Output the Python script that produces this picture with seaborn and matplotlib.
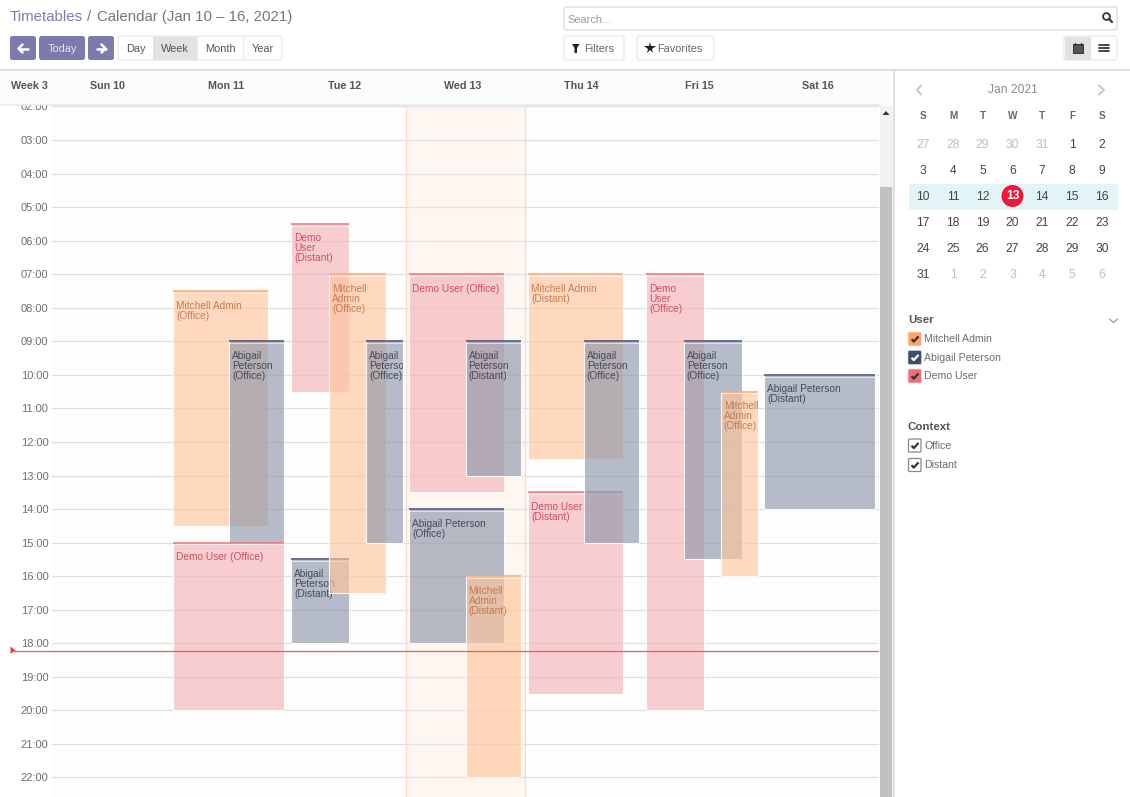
import matplotlib
matplotlib.use("Agg")
import matplotlib.pyplot as plt
from matplotlib.colors import to_rgba
from matplotlib.patches import Circle, FancyBboxPatch, Polygon, Rectangle
import pandas as pd
import seaborn as sns

# calendar events, in the order they stack
event_day = [1, 1, 1, 2, 2, 2, 2, 3, 3, 3, 3, 4, 4, 4, 5, 5, 5, 6]
event_user = ["Mitchell Admin", "Abigail Peterson", "Demo User",
              "Demo User", "Abigail Peterson", "Mitchell Admin", "Abigail Peterson",
              "Demo User", "Abigail Peterson", "Abigail Peterson", "Mitchell Admin",
              "Mitchell Admin", "Demo User", "Abigail Peterson",
              "Demo User", "Abigail Peterson", "Mitchell Admin",
              "Abigail Peterson"]
event_context = ["Office", "Office", "Office",
                 "Distant", "Distant", "Office", "Office",
                 "Office", "Distant", "Office", "Distant",
                 "Distant", "Distant", "Office",
                 "Office", "Office", "Office",
                 "Distant"]
event_start = [7.5, 9, 15, 5.5, 15.5, 7, 9, 7, 9, 14, 16, 7, 13.5, 9, 7, 9, 10.5, 10]
event_end = [14.5, 15, 20, 10.5, 18, 16.5, 15, 13.5, 13, 18, 22, 12.5, 19.5, 15, 20, 15.5, 16, 14]

# share of the day column each event takes up
slot_from = [0.025, 0.50, 0.025, 0.027, 0.027, 0.344, 0.66, 0.025, 0.50, 0.025, 0.50,
             0.03, 0.03, 0.50, 0.03, 0.347, 0.66, 0.03]
slot_to = [0.83, 0.967, 0.967, 0.517, 0.517, 0.827, 0.972, 0.83, 0.967, 0.83, 0.967,
           0.83, 0.83, 0.967, 0.52, 0.84, 0.972, 0.967]

# line breaks per event, the narrow ones wrap
event_label = ["Mitchell Admin\n(Office)", "Abigail\nPeterson\n(Office)", "Demo User (Office)",
               "Demo\nUser\n(Distant)", "Abigail\nPeterson\n(Distant)", "Mitchell\nAdmin\n(Office)",
               "Abigail\nPeterson\n(Office)",
               "Demo User (Office)", "Abigail\nPeterson\n(Distant)", "Abigail Peterson\n(Office)",
               "Mitchell\nAdmin\n(Distant)",
               "Mitchell Admin\n(Distant)", "Demo User\n(Distant)", "Abigail\nPeterson\n(Office)",
               "Demo\nUser\n(Office)", "Abigail\nPeterson\n(Office)", "Mitchell\nAdmin\n(Office)",
               "Abigail Peterson\n(Distant)"]

hours = list(range(2, 23))
day_names = ["Sun 10", "Mon 11", "Tue 12", "Wed 13", "Thu 14", "Fri 15", "Sat 16"]
now_hour = 18.22
today_col = 3

week_letters = ["S", "M", "T", "W", "T", "F", "S"]
month_rows = [[27, 28, 29, 30, 31, 1, 2],
              [3, 4, 5, 6, 7, 8, 9],
              [10, 11, 12, 13, 14, 15, 16],
              [17, 18, 19, 20, 21, 22, 23],
              [24, 25, 26, 27, 28, 29, 30],
              [31, 1, 2, 3, 4, 5, 6]]
users = ["Mitchell Admin", "Abigail Peterson", "Demo User"]
contexts = ["Office", "Distant"]

fill = {"Mitchell Admin": "#ffc59c", "Abigail Peterson": "#8d96aa", "Demo User": "#f5b2b7"}
strip = {"Mitchell Admin": "#fba56c", "Abigail Peterson": "#3d4c6a", "Demo User": "#ee6f7a"}
ink = {"Mitchell Admin": "#c5784c", "Abigail Peterson": "#3e4655", "Demo User": "#cb4a5c"}
tick_ink = {"Mitchell Admin": "#333333", "Abigail Peterson": "#ffffff", "Demo User": "#333333"}
fill_alpha = 0.64

df = pd.DataFrame({"day": event_day, "user": event_user, "context": event_context,
                   "start": event_start, "end": event_end, "label": event_label,
                   "slot_from": slot_from, "slot_to": slot_to})

sns.set_theme(style="white")
plt.rcParams["font.family"] = ["Liberation Sans", "DejaVu Sans"]

W, H = 1130, 797
fig = plt.figure(figsize=(W / 100, H / 100), dpi=100, facecolor="white")

# main grid: x in day columns, y in hours
ax = fig.add_axes([52 / W, 0, (879 - 52) / W, (H - 106) / H], facecolor="#fdfdfd", zorder=1)

for i, row in df.iterrows():
    left = row["day"] + row["slot_from"]
    right = row["day"] + row["slot_to"]
    z = 3 + i * 0.1
    sns.barplot(x=[(left + right) / 2], y=[row["end"] - row["start"]], bottom=row["start"],
                width=right - left, native_scale=True, errorbar=None, saturation=1,
                color=fill[row["user"]], ax=ax)
    bar = ax.patches[-1]
    bar.set_facecolor(to_rgba(fill[row["user"]], fill_alpha))
    bar.set_edgecolor(to_rgba("white", 0.9))
    bar.set_linewidth(0.8)
    bar.set_zorder(z)
    ax.plot([left, right], [row["start"]] * 2, color=strip[row["user"]], lw=1.1,
            solid_capstyle="butt", zorder=z + 0.01)
    ax.plot([left, right], [row["start"] + 0.05] * 2, color="white", alpha=0.7, lw=0.6,
            solid_capstyle="butt", zorder=z + 0.01)
    txt = ax.annotate(row["label"], xy=(left, row["start"]), xytext=(3, -9.5), textcoords="offset pixels",
                      ha="left", va="top", fontsize=7.3, linespacing=1.0, color=ink[row["user"]],
                      alpha=0.95, zorder=z + 0.02)
    txt.set_clip_on(True)
    txt.set_clip_path(bar)

ax.set_xlim(0, 7)
ax.set_ylim(2 + (H - 106.5) / 33.55, 2 - 0.5 / 33.55)
ax.set_yticks(hours)
ax.set_yticklabels([f"{h:02d}:00" for h in hours], fontsize=8, color="#6f6f6f")
ax.set_xticks([])
ax.set_xlabel("")
ax.set_ylabel("")
ax.tick_params(axis="y", length=0, pad=2.6)
ax.grid(axis="y", color="#d8dfe6", lw=0.9)
ax.set_axisbelow(True)
sns.despine(ax=ax, left=True, bottom=True, right=True, top=True)

# today column and now line
ax.axvspan(today_col, today_col + 1, facecolor=to_rgba("#ffe8d8", 0.3), edgecolor="none", zorder=2)
ax.axvline(today_col, color="#fcdcc8", lw=0.9, zorder=2)
ax.axvline(today_col + 1, color="#fcdcc8", lw=0.9, zorder=2)
ax.axhline(now_hour, color="#ff5555", lw=0.9, zorder=20)

# the odoo page around the grid, in pixel coordinates
ui = fig.add_axes([0, 0, 1, 1], zorder=5)
ui.set_xlim(0, W)
ui.set_ylim(H, 0)
ui.axis("off")


def box(x0, y0, x1, y1, fc="white", ec="none", lw=0.8, r=2.5):
    ui.add_patch(FancyBboxPatch((x0, y0), x1 - x0, y1 - y0, boxstyle=f"round,pad=0,rounding_size={r}",
                                fc=fc, ec=ec, lw=lw))


def rect(x0, y0, x1, y1, fc):
    ui.add_patch(Rectangle((x0, y0), x1 - x0, y1 - y0, fc=fc, ec="none"))


def label(x, y, s, px=11, color="#666666", ha="center", weight="normal"):
    ui.text(x, y, s, fontsize=px * 0.72, color=color, ha=ha, va="center", weight=weight)


rect(0, 0, W, 69, "white")
rect(0, 70, 893, 105, "#fcfcfc")
rect(893, 70, W, H, "white")
ui.plot([0, W], [69.5, 69.5], color="#d6d6d6", lw=1.1)
ui.plot([0, 880], [105.3, 105.3], color="#e4e8ee", lw=1.1)
ui.plot([893.5, 893.5], [70, H], color="#dcdcdc", lw=1.2)

# scrollbar
rect(880, 106, 893, H, "#f1f1f1")
rect(880, 187, 892, H, "#c1c1c1")
ui.add_patch(Polygon([(882.5, 115), (889.5, 115), (886, 111)], fc="#333333", ec="none"))

# now marker, the line runs on past the hour labels
ui.plot([13, 52], [650.7, 650.7], color="#ff5555", lw=0.9)
ui.add_patch(Polygon([(10.5, 646.5), (10.5, 654), (15.5, 650.3)], fc="#ff3344", ec="none"))

# title
ui.text(10, 17, "Timetables", fontsize=10.8, color="#7c7bad", ha="left", va="center")
ui.text(87, 17, "/", fontsize=10.8, color="#777777", ha="left", va="center")
ui.text(97, 17, "Calendar (Jan 10 – 16, 2021)", fontsize=10.8, color="#777777", ha="left", va="center")

# pager buttons
for x0, x1 in [(10, 36), (39, 85), (88, 114)]:
    box(x0, 36, x1, 60, fc="#7c7bad")
label(62, 48.5, "Today", px=11, color="#e4e4ee")
for cx, sgn in [(23, -1), (101, 1)]:
    ui.plot([cx - 4.5, cx + 4.5], [48.5, 48.5], color="white", lw=1.8)
    ui.plot([cx + sgn * 0.5, cx + sgn * 4.5, cx + sgn * 0.5], [44.5, 48.5, 52.5], color="white", lw=1.8)

# view scale buttons
box(118, 36, 282, 60, fc="white", ec="#e4e4e4")
rect(153, 36.5, 197, 59.5, "#e2e2e2")
for x in [197, 243]:
    ui.plot([x, x], [36.5, 59.5], color="#ececec", lw=0.8)
for cx, s in zip([135.5, 175, 220, 262.5], ["Day", "Week", "Month", "Year"]):
    label(cx, 48.5, s, px=11, color="#555555")

# search bar and filter buttons
box(564, 7, 1117, 30, fc="white", ec="#d4d4d4", lw=0.8)
label(567, 19.5, "Search...", px=11, color="#9a9a9a", ha="left")
ui.add_patch(Circle((1106.5, 16.5), 3.4, fc="none", ec="#333333", lw=1.3))
ui.plot([1109, 1112], [19, 22], color="#333333", lw=1.6)
box(564, 36, 624, 60, fc="white", ec="#e6e6e6")
box(637, 36, 714, 60, fc="white", ec="#e6e6e6")
ui.add_patch(Polygon([(572, 44), (579.5, 44), (577, 48), (577, 53), (574.5, 53), (574.5, 48)], fc="#222222", ec="none"))
label(584, 48.5, "Filters", px=11, color="#666666", ha="left")
ui.plot([649.5], [48], marker="*", ms=8.5, color="#222222", mew=0)
label(657.5, 48.5, "Favorites", px=11, color="#666666", ha="left")

# calendar / list toggle
box(1064, 36, 1117, 60, fc="white", ec="#e6e6e6")
rect(1064.5, 36.5, 1091, 59.5, "#e2e2e2")
ui.add_patch(Rectangle((1073, 44), 9.5, 8.5, fc="#555555", ec="#333333", lw=0.7))
ui.plot([1075, 1075], [42.5, 45], color="#333333", lw=0.9)
ui.plot([1080.5, 1080.5], [42.5, 45], color="#333333", lw=0.9)
for y in [45, 48, 51]:
    ui.plot([1099, 1100.5], [y, y], color="#222222", lw=1.2)
    ui.plot([1102, 1109], [y, y], color="#222222", lw=1.2)

# day header row
label(11, 85.5, "Week 3", px=10.8, color="#555555", ha="left", weight="bold")
for cx, s in zip([108, 226, 344.5, 462.5, 581, 699, 818], day_names):
    label(cx, 85.5, s, px=10.8, color="#555555", weight="bold")

# mini month
label(1012.5, 90, "Jan 2021", px=12, color="#8a8a8a")
ui.plot([921, 917, 921], [85.5, 90, 94.5], color="#c9c9c9", lw=1.5)
ui.plot([1099, 1104, 1099], [85.5, 90, 94.5], color="#c9c9c9", lw=1.5)
col_x = [923, 953, 982.5, 1012.5, 1042, 1072, 1102]
row_y = [145, 171, 197, 223, 249, 275]
for cx, s in zip(col_x, week_letters):
    label(cx, 116, s, px=10, color="#666666", weight="bold")
rect(908.5, 184, 1118, 209.5, "#e3f4f7")
ui.add_patch(Circle((1012.5, 196), 11, fc="#f0173c", ec="none"))
for r, (y, days) in enumerate(zip(row_y, month_rows)):
    for c, (cx, d) in enumerate(zip(col_x, days)):
        outside = (r == 0 and d > 20) or (r == 5 and d < 20)
        if d == 13:
            label(cx, y - 1, str(d), px=12, color="white", weight="bold")
        else:
            label(cx, y, str(d), px=12, color="#bdbdbd" if outside else "#444444")


def checkbox(y, fc, ec, tick):
    box(908.5, y - 6.5, 921, y + 6.5, fc=fc, ec=ec, lw=0.9, r=1)
    ui.plot([911.5, 913.8, 918.5], [y + 0.2, y + 2.6, y - 2.6], color=tick, lw=1.6, solid_capstyle="butt")


# filters
label(908, 320, "User", px=11.5, color="#555555", ha="left", weight="bold")
ui.plot([1109.5, 1113.5, 1117.5], [319, 322.5, 319], color="#aaaaaa", lw=1.1)
for y, u in zip([339, 357.5, 376], users):
    checkbox(y, strip[u], to_rgba(strip[u], 0.5), tick_ink[u])
    label(924.5, y, u, px=10.5, color="#6d6d6d", ha="left")
label(908, 427, "Context", px=11.5, color="#555555", ha="left", weight="bold")
for y, c in zip([445.5, 465], contexts):
    checkbox(y, "white", "#888888", "#333333")
    label(924.5, y, c, px=10.5, color="#6d6d6d", ha="left")

fig.savefig("out.png", dpi=100)
